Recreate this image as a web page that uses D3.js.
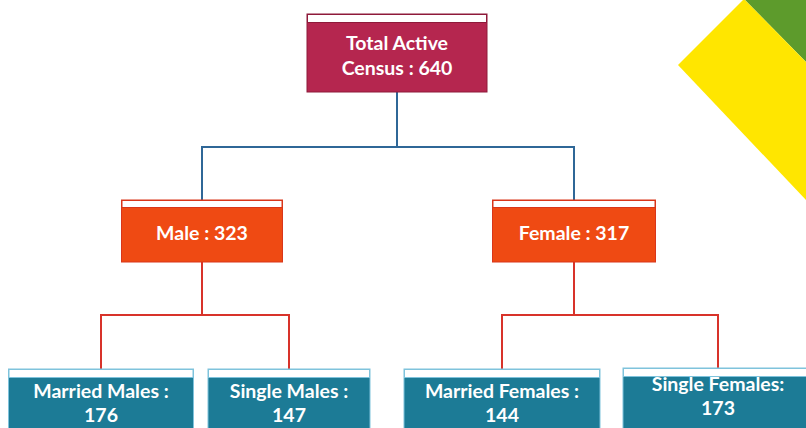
<!DOCTYPE html>
<html>
<head>
<meta charset="utf-8">
<script src="https://cdn.jsdelivr.net/npm/d3@7"></script>
<style>
  html, body { margin: 0; padding: 0; background: #fff; overflow: hidden; }
  svg { display: block; }
</style>
</head>
<body>
<div id="chart"></div>
<script>
// org-chart data
const ids     = ['total', 'male', 'female', 'mm', 'sm', 'mf', 'sf']
const parents = ['', 'total', 'total', 'male', 'male', 'female', 'female']
const names   = ['Total Active\nCensus', 'Male', 'Female', 'Married Males', 'Single Males', 'Married Females', 'Single Females']
const seps    = [' : ', ' : ', ' : ', ' :\n', ' :\n', ' :\n', ':\n']
const values  = [640, 323, 317, 176, 147, 144, 173]

// layout (pixels), kept apart from the data
const W = 806, H = 428
const centers = { total: 397, male: 202, female: 574, mm: 101, sm: 289, mf: 502, sf: 718 }
const widths  = { total: 180, male: 161, female: 163, mm: 185, sm: 162, mf: 196, sf: 190 }
const levelTop = [14, 200, 369]
const levelBottom = [92, 262, 440]
const busY = [147, 315]

const fills   = ['#b5264f', '#ef4a13', '#1c7b96']
const borders = ['#8e1a3a', '#d9361a', '#7fc3dc']
const linkColors = ['#2f6797', '#d8332a']

const rows = ids.map((id, i) => ({ id, parent: parents[i] || null, name: names[i], sep: seps[i], value: values[i] }))
const root = d3.stratify().id(d => d.id).parentId(d => d.parent)(rows)

const svg = d3.select('#chart').append('svg')
  .attr('width', W)
  .attr('height', H)

// decorative corner shapes
svg.append('polygon')
  .attr('points', '745,0 806,0 806,62')
  .attr('fill', '#5d9b2c')
svg.append('polygon')
  .attr('points', '743,0 745,0 806,62 806,200 678,65')
  .attr('fill', '#ffe600')

// connectors (elbow)
const links = svg.append('g').attr('fill', 'none').attr('stroke-width', 2)
root.links().forEach(l => {
  const lv = l.source.depth
  const x0 = centers[l.source.id], x1 = centers[l.target.id]
  const y0 = levelBottom[lv], y1 = levelTop[lv + 1]
  const p = d3.path()
  p.moveTo(x0, y0)
  p.lineTo(x0, busY[lv])
  p.lineTo(x1, busY[lv])
  p.lineTo(x1, y1)
  links.append('path')
    .attr('d', p.toString())
    .attr('stroke', linkColors[lv])
})

// boxes
const nodes = svg.append('g')
  .selectAll('g')
  .data(root.descendants())
  .join('g')
  .attr('transform', d => `translate(${centers[d.id] - widths[d.id] / 2},${levelTop[d.depth] - (d.id === 'sf' ? 1 : 0)})`)

nodes.append('rect')
  .attr('width', d => widths[d.id])
  .attr('height', d => levelBottom[d.depth] - levelTop[d.depth])
  .attr('fill', d => fills[d.depth])
  .attr('stroke', d => borders[d.depth])
  .attr('stroke-width', 1)

// white strip on top of each box
nodes.append('rect')
  .attr('x', 0.5)
  .attr('y', 0.5)
  .attr('width', d => widths[d.id] - 1)
  .attr('height', d => d.depth === 1 ? 7 : 8)
  .attr('fill', '#fff')
  .attr('stroke', d => borders[d.depth])
  .attr('stroke-width', 1)

const textY = [[28, 53], [32], [21, 45]]
nodes.each(function (d) {
  const g = d3.select(this)
  const lines = (d.data.name + d.data.sep + d.data.value).split('\n')
  lines.forEach((t, i) => {
    g.append('text')
      .attr('x', widths[d.id] / 2)
      .attr('y', textY[d.depth][i] - (d.id === 'sf' ? 6 : 0))
      .attr('text-anchor', 'middle')
      .attr('dominant-baseline', 'central')
      .attr('font-family', 'Lato, "Open Sans", sans-serif')
      .attr('font-weight', 'bold')
      .attr('font-size', '19.5px')
      .attr('fill', '#fff')
      .text(t)
  })
})
</script>
</body>
</html>
